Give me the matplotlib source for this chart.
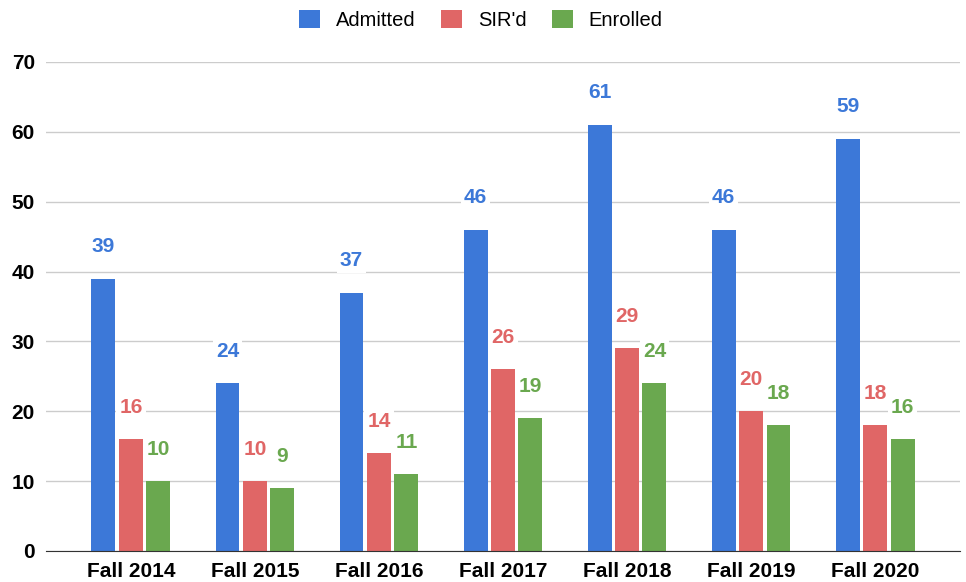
import matplotlib.pyplot as plt
import numpy as np

plt.rcParams['font.family'] = ['Liberation Sans', 'DejaVu Sans']

terms = ['Fall 2014', 'Fall 2015', 'Fall 2016', 'Fall 2017', 'Fall 2018', 'Fall 2019', 'Fall 2020']
admitted = [39, 24, 37, 46, 61, 46, 59]
sird = [16, 10, 14, 26, 29, 20, 18]
enrolled = [10, 9, 11, 19, 24, 18, 16]

series = [('Admitted', admitted, '#3c78d8'),
          ('SIR\'d', sird, '#e06666'),
          ('Enrolled', enrolled, '#6aa84f')]

fig = plt.figure(figsize=(9.66, 5.82), dpi=100)
ax = fig.add_axes([0.0476, 0.0533, 0.9462, 0.8402])

x = np.arange(len(terms))
width = 0.193
step = 0.221

for k, (name, vals, col) in enumerate(series):
    pos = x + (k - 1) * step
    ax.bar(pos, vals, width, color=col, label=name, zorder=3)
    for p, v in zip(pos, vals):
        ax.annotate(str(v), (p, v), xytext=(0, 23), textcoords='offset points',
                    ha='center', va='center', fontsize=15, fontweight='bold', color=col,
                    bbox=dict(boxstyle='square,pad=0.15', fc='white', ec='none'), zorder=4)

ax.set_xlim(-0.684, len(terms) - 1 + 0.684)
ax.set_ylim(0, 70)
ax.set_yticks(range(0, 71, 10))
ax.set_xticks(x)
ax.set_xticklabels(terms, fontsize=15, fontweight='bold')
for t in ax.get_yticklabels():
    t.set_fontsize(15)
    t.set_fontweight('bold')
ax.tick_params(length=0, pad=8)
ax.tick_params(axis='x', pad=8)
ax.grid(axis='y', color='#cccccc', linewidth=1, zorder=0)
for s in ['top', 'right', 'left']:
    ax.spines[s].set_visible(False)
ax.spines['bottom'].set_color('#333333')
ax.spines['bottom'].set_zorder(5)

fig.legend(loc='center', bbox_to_anchor=(0.498, 0.966), ncol=3, frameon=False,
           fontsize=14.5, handlelength=1.0, handleheight=1.0, columnspacing=1.3,
           handletextpad=0.8)

fig.savefig('out.png', dpi=100)
